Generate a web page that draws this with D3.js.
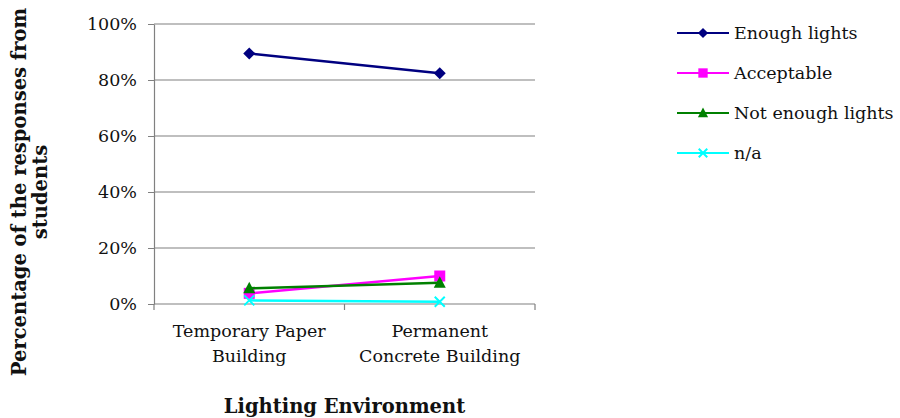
<!DOCTYPE html>
<html>
<head>
<meta charset="utf-8">
<script src="https://cdn.jsdelivr.net/npm/d3@7"></script>
<style>
  body { margin: 0; background: #fff; }
  svg text { font-family: "DejaVu Serif", "Liberation Serif", serif; fill: #111; }
</style>
</head>
<body>
<svg id="chart" width="900" height="418"></svg>
<script>
// Survey data: share of student responses by building type
const categories = [["Temporary Paper", "Building"], ["Permanent", "Concrete Building"]];
const seriesNames = ["Enough lights", "Acceptable", "Not enough lights", "n/a"];
const enoughLights = [89.5, 82.4];
const acceptable = [3.8, 10.0];
const notEnoughLights = [5.6, 7.6];
const notAnswered = [1.3, 0.8];
const yTicks = [0, 20, 40, 60, 80, 100];
const colors = ["#000080", "#ff00ff", "#008000", "#00ffff"];
const symbols = ["diamond", "square", "triangle", "cross"];

const series = [enoughLights, acceptable, notEnoughLights, notAnswered];

const svg = d3.select("#chart");
const margin = { left: 154, right: 365, top: 24, bottom: 114 };
const width = 900 - margin.left - margin.right;
const height = 418 - margin.top - margin.bottom;
const labelSize = "17.5px";
const titleSize = "19.5px";

const g = svg.append("g").attr("transform", `translate(${margin.left},${margin.top})`);

const x = d3.scaleBand().domain(d3.range(categories.length)).range([0, width]);
const y = d3.scaleLinear().domain([0, 100]).range([height, 0]);

// horizontal gridlines
g.selectAll(".grid").data(yTicks.filter(t => t > 0)).join("line")
  .attr("x1", 0).attr("x2", width)
  .attr("y1", d => y(d)).attr("y2", d => y(d))
  .attr("stroke", "#808080").attr("stroke-width", 1.2);

// y axis
const yAxis = g.append("g").call(d3.axisLeft(y).tickValues(yTicks).tickFormat(d => d + "%").tickSize(6).tickSizeOuter(0));
yAxis.select(".domain").attr("stroke", "#808080").attr("stroke-width", 1.2);
yAxis.selectAll(".tick line").attr("stroke", "#808080");
yAxis.selectAll(".tick text").attr("x", -17).attr("font-size", labelSize).attr("fill", "#111");

// x axis with category boundary ticks
const xAxisG = g.append("g").attr("transform", `translate(0,${height})`);
xAxisG.append("line").attr("x1", 0).attr("x2", width).attr("y1", 0).attr("y2", 0)
  .attr("stroke", "#808080").attr("stroke-width", 1.2);
const bounds = d3.range(categories.length + 1).map(i => i === categories.length ? width : x(i));
xAxisG.selectAll(".xt").data(bounds).join("line")
  .attr("x1", d => d).attr("x2", d => d).attr("y1", 0).attr("y2", 6)
  .attr("stroke", "#808080").attr("stroke-width", 1.2);
xAxisG.selectAll(".xl").data(categories).join("text")
  .attr("text-anchor", "middle").attr("font-size", labelSize)
  .attr("transform", (d, i) => `translate(${x(i) + x.bandwidth() / 2},0)`)
  .selectAll("tspan").data(d => d).join("tspan")
  .attr("x", 0).attr("y", (d, j) => 33 + j * 25).text(d => d);

// series lines and markers
const cx = i => x(i) + x.bandwidth() / 2;
const line = d3.line().x((d, i) => cx(i)).y(d => y(d));

function drawMarker(sel, type, color, scale = 1) {
  const k = scale;
  if (type === "cross") {
    sel.append("path").attr("d", `M${-5*k},${-5*k}L${5*k},${5*k}M${-5*k},${5*k}L${5*k},${-5*k}`)
      .attr("stroke", color).attr("stroke-width", 2).attr("fill", "none");
  } else if (type === "diamond") {
    sel.append("path").attr("d", `M0,${-6*k}L${6*k},0L0,${6*k}L${-6*k},0Z`).attr("fill", color);
  } else if (type === "square") {
    sel.append("path").attr("d", `M${-5.5*k},${-5.5*k}h${11*k}v${11*k}h${-11*k}Z`).attr("fill", color);
  } else {
    sel.append("path").attr("d", `M0,${-6.5*k}L${6*k},${5*k}L${-6*k},${5*k}Z`).attr("fill", color);
  }
}

series.forEach((vals, s) => {
  g.append("path").datum(vals).attr("d", line)
    .attr("fill", "none").attr("stroke", colors[s]).attr("stroke-width", 2.5);
  vals.forEach((v, i) => {
    const m = g.append("g").attr("transform", `translate(${cx(i)},${y(v)})`);
    drawMarker(m, symbols[s], colors[s]);
  });
});

// legend
const legend = svg.append("g").attr("transform", "translate(677,33)");
seriesNames.forEach((name, s) => {
  const row = legend.append("g").attr("transform", `translate(0,${s * 40})`);
  row.append("line").attr("x1", 0).attr("x2", 52).attr("stroke", colors[s]).attr("stroke-width", 2.2);
  const m = row.append("g").attr("transform", "translate(26,0)");
  drawMarker(m, symbols[s], colors[s], 0.85);
  row.append("text").attr("x", 57).attr("y", 6).attr("font-size", labelSize).text(name);
});

// axis titles
svg.append("text").attr("text-anchor", "middle").attr("font-weight", "bold").attr("font-size", titleSize)
  .attr("x", margin.left + width / 2).attr("y", 413).text("Lighting Environment");

const yTitle = svg.append("text").attr("text-anchor", "middle").attr("font-weight", "bold").attr("font-size", titleSize)
  .attr("transform", "translate(26,192) rotate(-90)");
yTitle.append("tspan").attr("x", 0).attr("y", 0).text("Percentage of the responses from");
yTitle.append("tspan").attr("x", 0).attr("y", 21).text("students");
</script>
</body>
</html>
